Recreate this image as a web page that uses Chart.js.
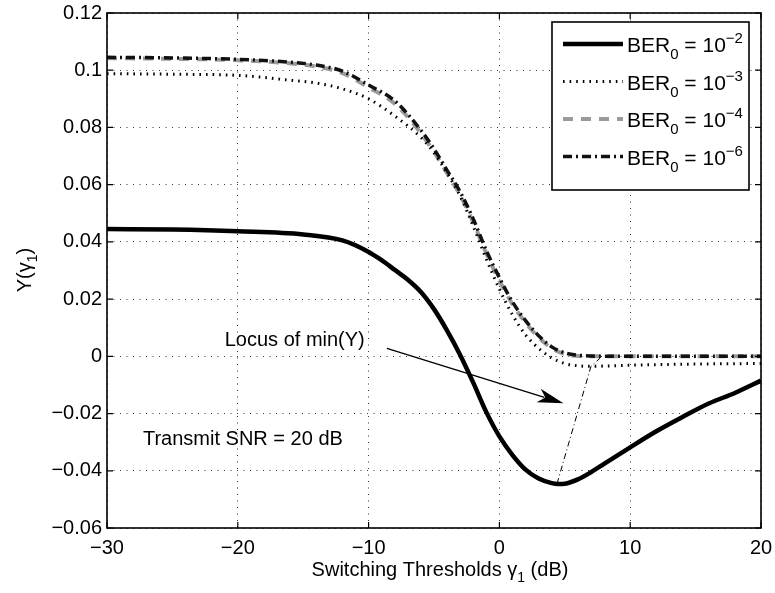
<!DOCTYPE html>
<html>
<head>
<meta charset="utf-8">
<script src="https://cdn.jsdelivr.net/npm/chart.js@4.4.0/dist/chart.umd.min.js"></script>
<style>
body{margin:0;background:#fff;}
canvas{display:block;}
</style>
</head>
<body>
<canvas id="myChart" width="775" height="593"></canvas>
<script>
// switching threshold gamma_1 (dB) and Y(gamma_1)
var gammaSolid = [-30,-25,-20,-15,-12,-10,-9,-8,-7,-6,-5,-4,-3,-2,-1,0,1,2,3,4,4.5,5,6,7,8,10,12,14,16,18,20];
var berE2 = [0.0445,0.0443,0.0437,0.0426,0.0405,0.0365,0.0336,0.0302,0.0268,0.0225,0.0165,0.0090,0.0005,-0.0092,-0.0195,-0.0280,-0.0345,-0.0396,-0.0427,-0.0443,-0.0446,-0.0445,-0.0430,-0.0405,-0.0376,-0.0318,-0.0262,-0.0212,-0.0165,-0.0128,-0.0085];

var gammaOther = [-30,-25,-20,-16,-14,-12,-10,-8,-6,-5,-4,-3,-2,-1,0,1,2,3,4,5,6,7,8,10,12,15,20];
var berE3 = [0.0988,0.0986,0.0982,0.0965,0.0955,0.0935,0.0900,0.0840,0.0765,0.0712,0.0640,0.0560,0.0455,0.0340,0.0235,0.0145,0.0075,0.0028,-0.0005,-0.0025,-0.0033,-0.0035,-0.0034,-0.0031,-0.0029,-0.0027,-0.0025];
var berE4 = [0.1042,0.1040,0.1035,0.1024,0.1013,0.0990,0.0940,0.0883,0.0780,0.0714,0.0640,0.0563,0.0468,0.0360,0.0265,0.0182,0.0118,0.0066,0.0028,0.0008,0.0001,0,0,0,0,0,0];
var berE6 = [0.1045,0.1043,0.1038,0.1028,0.1018,0.0997,0.0948,0.0893,0.0790,0.0725,0.0650,0.0575,0.0480,0.0370,0.0275,0.0190,0.0125,0.0072,0.0033,0.0012,0.0004,0.0001,0,0,0,0,0];

// locus of the minima
var locusGamma = [4.4, 7.0, 7.7];
var locusY = [-0.0446, -0.0035, -0.0006];

var xTickValues = [-30,-20,-10,0,10,20];
var yTickValues = [-0.06,-0.04,-0.02,0,0.02,0.04,0.06,0.08,0.1,0.12];
var legendExp = ["\u22122","\u22123","\u22124","\u22126"];

var FAM = '"Liberation Sans", Arial, sans-serif';
function font(sz){ return sz + 'px ' + FAM; }

function pts(xs, ys){
    return xs.map(function(x, i){ return {x: x, y: ys[i]}; });
}

function fmt(v){
    var r = Math.round(v * 100) / 100;
    return String(r).replace('-', '\u2212');
}

function richWidth(ctx, parts){
    var w = 0;
    parts.forEach(function(p){ ctx.font = font(p.size); w += ctx.measureText(p.t).width; });
    return w;
}
function drawRich(ctx, parts, x, y, align){
    var w = richWidth(ctx, parts);
    var cx = align === 'center' ? x - w / 2 : x;
    ctx.textAlign = 'left';
    ctx.textBaseline = 'alphabetic';
    parts.forEach(function(p){
        ctx.font = font(p.size);
        ctx.fillText(p.t, cx, y + (p.dy || 0));
        cx += ctx.measureText(p.t).width;
    });
}

var extras = {
    id: 'extras',
    afterDatasetsDraw: function(chart){
        var ctx = chart.ctx, a = chart.chartArea;
        var xs = chart.scales.x, ys = chart.scales.y;
        ctx.save();
        ctx.fillStyle = '#000';
        ctx.strokeStyle = '#000';

        // arrow towards the locus
        var x0 = xs.getPixelForValue(-8.6), y0 = ys.getPixelForValue(0.0028);
        var x1 = xs.getPixelForValue(4.9), y1 = ys.getPixelForValue(-0.0164);
        var ang = Math.atan2(y1 - y0, x1 - x0);
        var c = Math.cos(ang), s = Math.sin(ang);
        ctx.lineWidth = 1.4;
        ctx.beginPath();
        ctx.moveTo(x0, y0);
        ctx.lineTo(x1 - 20 * c, y1 - 20 * s);
        ctx.stroke();
        ctx.beginPath();
        ctx.moveTo(x1, y1);
        ctx.lineTo(x1 - 26 * c + 7 * s, y1 - 26 * s - 7 * c);
        ctx.lineTo(x1 - 19 * c, y1 - 19 * s);
        ctx.lineTo(x1 - 26 * c - 7 * s, y1 - 26 * s + 7 * c);
        ctx.closePath();
        ctx.fill();

        // annotations
        ctx.font = font(20);
        ctx.textAlign = 'left';
        ctx.textBaseline = 'middle';
        ctx.fillText('Locus of min(Y)', xs.getPixelForValue(-21.0), ys.getPixelForValue(0.0057));
        ctx.fillText('Transmit SNR = 20 dB', xs.getPixelForValue(-27.25), ys.getPixelForValue(-0.0292));

        // axes box + inward ticks
        ctx.lineWidth = 1.6;
        ctx.strokeRect(a.left, a.top, a.right - a.left, a.bottom - a.top);
        ctx.lineWidth = 1.2;
        ctx.beginPath();
        xTickValues.forEach(function(v){
            var px = xs.getPixelForValue(v);
            ctx.moveTo(px, a.bottom); ctx.lineTo(px, a.bottom - 6);
            ctx.moveTo(px, a.top); ctx.lineTo(px, a.top + 6);
        });
        yTickValues.forEach(function(v){
            var py = ys.getPixelForValue(v);
            ctx.moveTo(a.left, py); ctx.lineTo(a.left + 6, py);
            ctx.moveTo(a.right, py); ctx.lineTo(a.right - 6, py);
        });
        ctx.stroke();

        // legend
        var bx = a.right - 209, by = a.top + 9, bw = 197, bh = 168;
        ctx.fillStyle = '#fff';
        ctx.fillRect(bx, by, bw, bh);
        ctx.lineWidth = 1.6;
        ctx.strokeStyle = '#000';
        ctx.strokeRect(bx, by, bw, bh);
        for (var i = 0; i < 4; i++) {
            var ds = chart.data.datasets[i];
            var ry = by + 22 + i * 37.5;
            ctx.save();
            ctx.strokeStyle = ds.borderColor;
            ctx.lineWidth = ds.borderWidth;
            ctx.setLineDash(ds.borderDash || []);
            ctx.beginPath();
            ctx.moveTo(bx + 11, ry);
            ctx.lineTo(bx + 71, ry);
            ctx.stroke();
            ctx.restore();
            ctx.fillStyle = '#000';
            drawRich(ctx, [
                {t: 'BER', size: 21},
                {t: '0', size: 15, dy: 7},
                {t: ' = 10', size: 21},
                {t: legendExp[i], size: 15, dy: -9}
            ], bx + 75, ry + 8, 'left');
        }

        // axis titles
        ctx.fillStyle = '#000';
        drawRich(ctx, [
            {t: 'Switching Thresholds \u03B3', size: 20},
            {t: '1', size: 14, dy: 6},
            {t: ' (dB)', size: 20}
        ], (a.left + a.right) / 2 + 6, 576, 'center');
        ctx.save();
        ctx.translate(31, 270);
        ctx.rotate(-Math.PI / 2);
        drawRich(ctx, [
            {t: 'Y(\u03B3', size: 20},
            {t: '1', size: 14, dy: 6},
            {t: ')', size: 20}
        ], 0, 0, 'center');
        ctx.restore();

        ctx.restore();
    }
};

var ctx = document.getElementById('myChart');
var myChart = new Chart(ctx, {
    type: 'line',
    data: {
        datasets: [
            {data: pts(gammaSolid, berE2), borderColor: '#000', borderWidth: 4.5, order: 0},
            {data: pts(gammaOther, berE3), borderColor: '#000', borderWidth: 3, borderDash: [1.6, 5], order: 0},
            {data: pts(gammaOther, berE4), borderColor: '#9a9a9a', borderWidth: 4, borderDash: [10, 8], order: 2},
            {data: pts(gammaOther, berE6), borderColor: '#111', borderWidth: 3.5, borderDash: [9, 4, 2, 4], order: 1},
            {data: pts(locusGamma, locusY), borderColor: '#000', borderWidth: 1, borderDash: [6, 3, 1, 3], cubicInterpolationMode: 'default', order: 0}
        ]
    },
    options: {
        responsive: false,
        animation: false,
        devicePixelRatio: 1,
        layout: {padding: {left: 0, right: 14, top: 13, bottom: 0}},
        plugins: {legend: {display: false}, tooltip: {enabled: false}},
        elements: {
            point: {radius: 0},
            line: {tension: 0, cubicInterpolationMode: 'monotone', fill: false, borderJoinStyle: 'round'}
        },
        scales: {
            x: {
                type: 'linear', min: -30, max: 20,
                afterBuildTicks: function(s){ s.ticks = xTickValues.map(function(v){ return {value: v}; }); },
                afterFit: function(s){ s.height = 65; s.paddingLeft = 0; s.paddingRight = 0; },
                grid: {color: '#333', lineWidth: 1, drawTicks: false},
                border: {display: false, dash: [1, 5.5]},
                ticks: {padding: 8, color: '#000', font: {family: FAM, size: 20}, maxRotation: 0, callback: fmt}
            },
            y: {
                type: 'linear', min: -0.06, max: 0.12,
                afterBuildTicks: function(s){ s.ticks = yTickValues.map(function(v){ return {value: v}; }); },
                afterFit: function(s){ s.width = 107; s.paddingTop = 0; s.paddingBottom = 0; },
                grid: {color: '#333', lineWidth: 1, drawTicks: false},
                border: {display: false, dash: [1, 5.5]},
                ticks: {padding: 5, color: '#000', font: {family: FAM, size: 20}, callback: fmt}
            }
        }
    },
    plugins: [extras]
});
</script>
</body>
</html>
